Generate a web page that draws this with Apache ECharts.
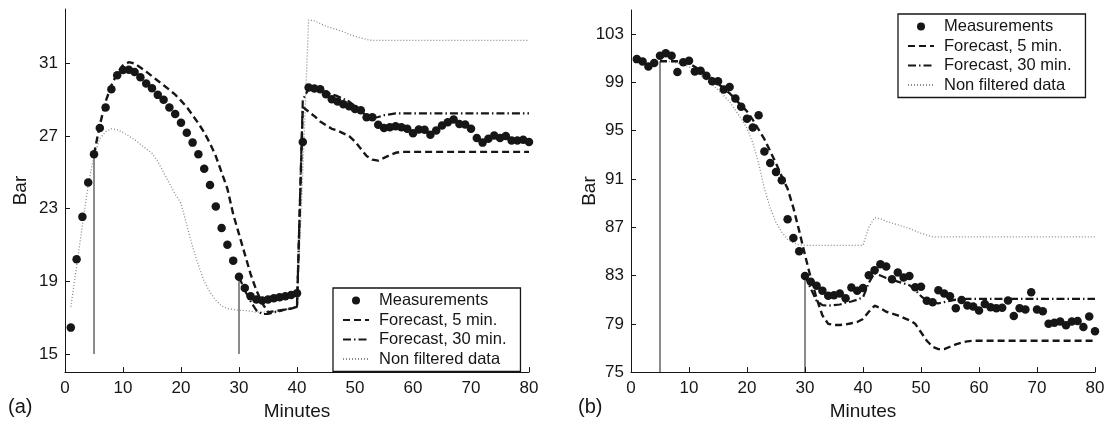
<!DOCTYPE html>
<html>
<head>
<meta charset="utf-8">
<script src="https://cdn.jsdelivr.net/npm/echarts@6/dist/echarts.min.js"></script>
<style>
  html, body { margin: 0; padding: 0; background: #fff; }
  #chart { width: 1111px; height: 426px; }
</style>
</head>
<body>
<div id="chart"></div>
<script>
// Pressure (Bar) over time (Minutes): panel (a) and panel (b)

// ---- Panel (a) ----
const measStartA = 1;
const measA = [
  16.45, 20.22, 22.55, 24.44, 26.0, 27.44, 28.58, 29.58, 30.35, 30.64,
  30.65, 30.53, 30.24, 29.89, 29.64, 29.27, 29.0, 28.58, 28.22, 27.74,
  27.18, 26.64, 26.0, 25.2, 24.31, 23.12, 21.94, 21.02, 20.14, 19.25,
  18.63, 18.18, 18.0, 17.95, 18.0, 18.07, 18.12, 18.18, 18.25, 18.35,
  26.67, 29.67, 29.62, 29.58, 29.31, 29.03, 28.9, 28.76, 28.64, 28.49,
  28.42, 28.04, 28.04, 27.62, 27.44, 27.49, 27.54, 27.49, 27.4, 27.16,
  27.36, 27.35, 27.07, 27.31, 27.58, 27.76, 27.91, 27.67, 27.64, 27.4,
  26.89, 26.64, 26.85, 27.03, 26.89, 27.0, 26.76, 26.76, 26.8, 26.67
];
const fc5StartA = 5;
const fc5A = [
  26.0, 27.6, 28.9, 29.8, 30.45, 30.9, 31.07, 31.0, 30.78, 30.55,
  30.3, 30.05, 29.8, 29.55, 29.28, 28.95, 28.6, 28.15, 27.7, 27.2,
  26.6, 25.9, 25.0, 24.1, 22.7, 21.6, 20.5, 19.4, 18.5, 17.8,
  17.3, 17.35, 17.4, 17.45, 17.5, 17.6, 28.6, 28.35, 28.1, 27.8,
  27.6, 27.4, 27.3, 27.15, 27.0, 26.7, 26.3, 25.9, 25.7, 25.65,
  25.8, 25.95, 26.08, 26.13, 26.13, 26.13, 26.13, 26.13, 26.13, 26.13,
  26.13, 26.13, 26.13, 26.13, 26.13, 26.13, 26.13, 26.13, 26.13, 26.13,
  26.13, 26.13, 26.13, 26.13, 26.13, 26.13
];
const fc30StartA = 30;
const fc30A = [
  19.25, 18.5, 17.9, 17.4, 17.2, 17.2, 17.3, 17.35, 17.45, 17.5,
  17.6, 29.0, 29.6, 29.55, 29.5, 29.4, 29.3, 29.2, 29.05, 28.9,
  28.65, 28.4, 28.1, 28.0, 28.05, 28.15, 28.2, 28.25, 28.25, 28.25,
  28.25, 28.25, 28.25, 28.25, 28.25, 28.25, 28.25, 28.25, 28.25, 28.25,
  28.25, 28.25, 28.25, 28.25, 28.25, 28.25, 28.25, 28.25, 28.25, 28.25,
  28.25
];
const rawStartA = 1;
const rawA = [
  17.6, 19.8, 22.1, 24.3, 25.9, 26.85, 27.25, 27.4, 27.35, 27.2,
  27.0, 26.8, 26.55, 26.3, 26.05, 25.6, 25.0, 24.4, 23.8, 23.3,
  22.1, 20.9, 19.9, 19.0, 18.4, 17.95, 17.65, 17.5, 17.45, 17.4,
  17.4, 17.35, 17.3, 17.3, 17.3, 17.35, 17.4, 17.45, 17.5, 17.55,
  25.0, 33.4, 33.35, 33.2, 33.05, 32.95, 32.85, 32.75, 32.6, 32.5,
  32.4, 32.32, 32.27, 32.27, 32.27, 32.27, 32.27, 32.27, 32.27, 32.27,
  32.27, 32.27, 32.27, 32.27, 32.27, 32.27, 32.27, 32.27, 32.27, 32.27,
  32.27, 32.27, 32.27, 32.27, 32.27, 32.27, 32.27, 32.27, 32.27, 32.27
];
const yTicksA = [15, 19, 23, 27, 31];
const guideBaseA = 15;

// ---- Panel (b) ----
const measStartB = 1;
const measB = [
  100.93, 100.73, 100.32, 100.6, 101.2, 101.42, 101.2, 99.86, 100.68, 100.79,
  99.91, 99.96, 99.56, 99.09, 99.09, 98.41, 98.63, 97.67, 96.99, 96.0,
  95.27, 96.28, 93.27, 92.32, 91.58, 90.9, 87.67, 86.11, 85.02, 82.97,
  82.48, 82.15, 81.75, 81.33, 81.37, 81.52, 81.11, 82.0, 81.75, 81.96,
  83.03, 83.43, 83.93, 83.74, 82.7, 83.25, 82.84, 82.97, 82.02, 82.07,
  80.92, 80.79, 81.79, 81.52, 81.28, 80.3, 80.98, 80.52, 80.43, 80.11,
  80.65, 80.38, 80.3, 80.33, 80.93, 79.64, 80.3, 80.19, 81.61, 80.19,
  80.05, 79.0, 79.09, 79.2, 78.88, 79.2, 79.23, 78.74, 79.6, 78.39
];
const fc5StartB = 5;
const fc5B = [
  100.75, 100.75, 100.75, 100.75, 100.7, 100.55, 100.3, 100.0, 99.7, 99.3,
  98.9, 98.5, 98.1, 97.6, 97.1, 96.6, 95.9, 95.1, 94.3, 93.3,
  92.3, 91.2, 90.2, 88.6, 86.7, 84.7, 82.8, 81.1, 79.7, 79.0,
  78.9, 78.9, 78.95, 79.05, 79.15, 79.4, 80.0, 80.5, 80.3, 80.0,
  79.85, 79.7, 79.5, 79.3, 79.0, 78.3, 77.6, 77.1, 76.9, 76.9,
  77.1, 77.3, 77.45, 77.55, 77.6, 77.6, 77.6, 77.6, 77.6, 77.6,
  77.6, 77.6, 77.6, 77.6, 77.6, 77.6, 77.6, 77.6, 77.6, 77.6,
  77.6, 77.6, 77.6, 77.6, 77.6, 77.6
];
const fc30StartB = 30;
const fc30B = [
  83.0, 81.9, 80.9, 80.55, 80.5, 80.55, 80.6, 80.75, 80.85, 81.0,
  81.2, 82.4, 83.2, 83.0, 82.8, 82.65, 82.5, 82.35, 82.2, 81.8,
  81.3, 80.9, 80.75, 80.7, 80.8, 80.9, 81.0, 81.05, 81.06, 81.06,
  81.06, 81.06, 81.06, 81.06, 81.06, 81.06, 81.06, 81.06, 81.06, 81.06,
  81.06, 81.06, 81.06, 81.06, 81.06, 81.06, 81.06, 81.06, 81.06, 81.06,
  81.06
];
const rawStartB = 5;
const rawB = [
  100.8, 100.8, 100.7, 100.6, 100.5, 100.3, 99.95, 99.6, 99.2, 98.8,
  98.4, 97.9, 97.4, 96.7, 96.0, 95.2, 94.0, 92.3, 90.2, 88.6,
  87.4, 86.6, 86.0, 85.7, 85.55, 85.5, 85.5, 85.5, 85.5, 85.5,
  85.5, 85.5, 85.5, 85.5, 85.5, 85.5, 87.0, 87.8, 87.7, 87.5,
  87.35, 87.2, 87.05, 86.9, 86.7, 86.5, 86.35, 86.2, 86.2, 86.2,
  86.2, 86.2, 86.2, 86.2, 86.2, 86.2, 86.2, 86.2, 86.2, 86.2,
  86.2, 86.2, 86.2, 86.2, 86.2, 86.2, 86.2, 86.2, 86.2, 86.2,
  86.2, 86.2, 86.2, 86.2, 86.2, 86.2
];
const yTicksB = [75, 79, 83, 87, 91, 95, 99, 103];
const guideBaseB = 75;

// Shared
const names = ['Measurements', 'Forecast, 5 min.', 'Forecast, 30 min.', 'Non filtered data'];

const FONT = '"Liberation Sans", Arial, Helvetica, sans-serif';
const INK = '#161616';
const RAW_GREY = '#8a8a8a';

function pairs(start, values) {
  return values.map((v, i) => [start + i, v]);
}

function guide(idx, start, values, base) {
  // vertical marker where a forecast begins, from its first value down to the base level
  return {
    type: 'line', xAxisIndex: idx, yAxisIndex: idx, silent: true,
    data: [[start, values[0]], [start, base]], symbol: 'none', z: 1,
    itemStyle: { color: INK },
    lineStyle: { color: INK, width: 1 }
  };
}

function panelSeries(idx, meas, measStart, fc5, fc5Start, fc30, fc30Start, raw, rawStart, base) {
  return [
    {
      name: names[3], type: 'line', xAxisIndex: idx, yAxisIndex: idx,
      data: pairs(rawStart, raw), symbol: 'none', showSymbol: false, z: 2,
      itemStyle: { color: RAW_GREY },
      lineStyle: { color: RAW_GREY, width: 1.3, type: [1, 2] }
    },
    {
      name: names[2], type: 'line', xAxisIndex: idx, yAxisIndex: idx,
      data: pairs(fc30Start, fc30), symbol: 'none', showSymbol: false, z: 3,
      itemStyle: { color: INK },
      lineStyle: { color: INK, width: 2.2, type: [8, 3, 1.5, 3] }
    },
    {
      name: names[1], type: 'line', xAxisIndex: idx, yAxisIndex: idx,
      data: pairs(fc5Start, fc5), symbol: 'none', showSymbol: false, z: 3,
      itemStyle: { color: INK },
      lineStyle: { color: INK, width: 2.4, type: [7, 4] }
    },
    guide(idx, fc5Start, fc5, base),
    guide(idx, fc30Start, fc30, base),
    {
      name: names[0], type: 'scatter', xAxisIndex: idx, yAxisIndex: idx,
      data: pairs(measStart, meas), symbol: 'circle', symbolSize: 8.5, z: 5,
      itemStyle: { color: INK, opacity: 1 }
    }
  ];
}

function xAxis(idx) {
  return {
    type: 'value', gridIndex: idx, min: 0, max: 80, interval: 10,
    name: 'Minutes', nameLocation: 'middle', nameGap: 29,
    nameTextStyle: { fontFamily: FONT, fontSize: 19, color: INK },
    axisLine: { lineStyle: { color: INK, width: 1 } },
    axisTick: { inside: true, length: 5, lineStyle: { color: INK } },
    axisLabel: { fontFamily: FONT, fontSize: 17, color: INK, margin: 8 },
    splitLine: { show: false }
  };
}

function yAxis(idx, min, max, ticks, gap) {
  return {
    type: 'value', gridIndex: idx, min: min, max: max,
    name: 'Bar', nameLocation: 'middle', nameGap: gap, nameMoveOverlap: false,
    nameTextStyle: { fontFamily: FONT, fontSize: 19, color: INK },
    axisLine: { show: true, lineStyle: { color: INK, width: 1 } },
    axisTick: { show: true, inside: true, length: 5, customValues: ticks, lineStyle: { color: INK } },
    axisLabel: { fontFamily: FONT, fontSize: 17, color: INK, margin: 7, customValues: ticks },
    splitLine: { show: false }
  };
}

function legend(left, top) {
  return {
    orient: 'vertical', left: left, top: top,
    data: [
      { name: names[0] },
      { name: names[1], itemStyle: { opacity: 0 } },
      { name: names[2], itemStyle: { opacity: 0 } },
      { name: names[3], itemStyle: { opacity: 0 } }
    ],
    selectedMode: false,
    itemWidth: 26, itemHeight: 8, itemGap: 2.5,
    padding: [4, 14, 4, 9],
    borderColor: INK, borderWidth: 1.3, backgroundColor: '#fff',
    textStyle: { fontFamily: FONT, fontSize: 16.5, color: INK, padding: [0, 0, 0, 5] }
  };
}

const chart = echarts.init(document.getElementById('chart'), null, { renderer: 'canvas' });
chart.setOption({
  animation: false,
  backgroundColor: '#fff',
  grid: [
    { left: 65, top: 9, width: 464, height: 366 },
    { left: 631, top: 10, width: 464, height: 365 }
  ],
  xAxis: [xAxis(0), xAxis(1)],
  yAxis: [yAxis(0, 14, 34, yTicksA, 35), yAxis(1, 75, 105, yTicksB, 32)],
  legend: [legend(333, 288), legend(898, 14)],
  graphic: [
    { type: 'text', left: 8, top: 397, style: { text: '(a)', font: '20px ' + FONT, fill: INK } },
    { type: 'text', left: 578, top: 397, style: { text: '(b)', font: '20px ' + FONT, fill: INK } }
  ],
  series: [].concat(
    panelSeries(0, measA, measStartA, fc5A, fc5StartA, fc30A, fc30StartA, rawA, rawStartA, guideBaseA),
    panelSeries(1, measB, measStartB, fc5B, fc5StartB, fc30B, fc30StartB, rawB, rawStartB, guideBaseB)
  )
});
</script>
</body>
</html>
